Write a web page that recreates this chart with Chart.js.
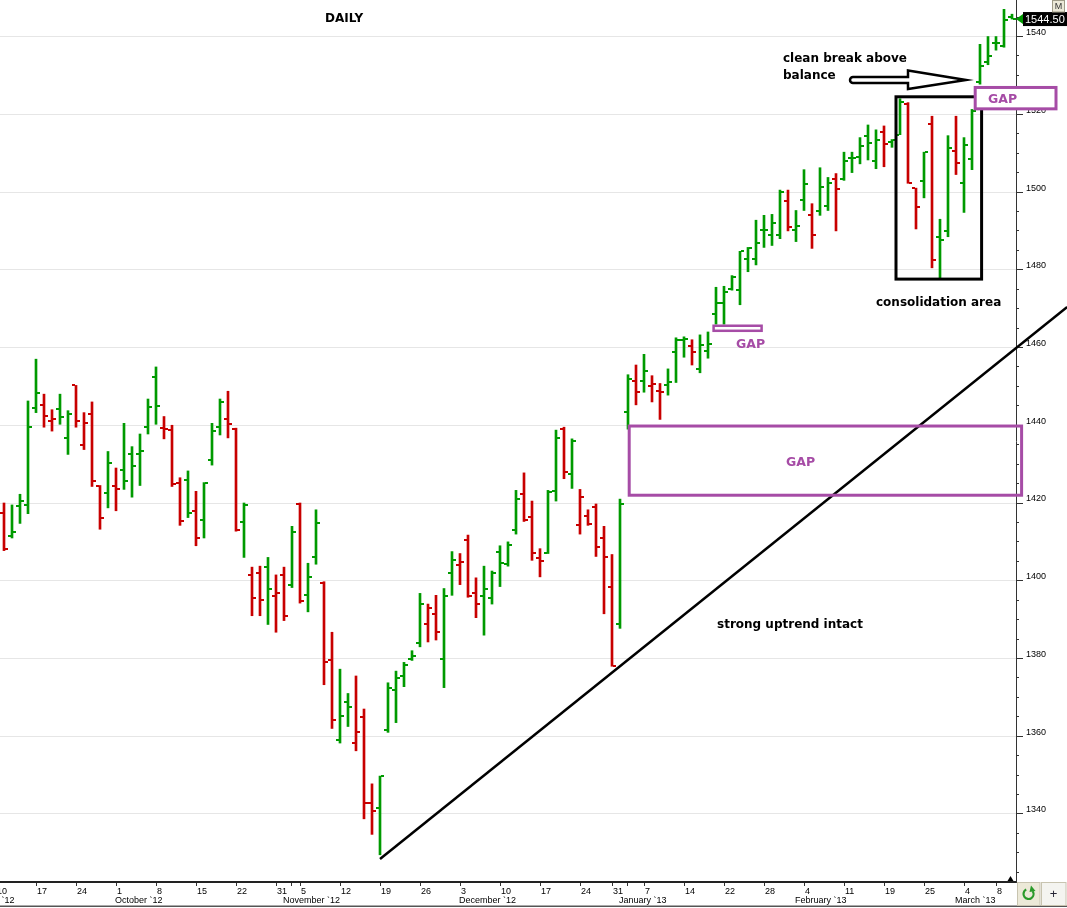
<!DOCTYPE html>
<html lang="en">
<head>
<meta charset="UTF-8">
<title>Daily</title>
<style>
  html, body { margin: 0; padding: 0; background: #fff; }
  #wrap { width: 1067px; height: 908px; }
</style>
</head>
<body>
<div id="wrap"><canvas id="chart" width="1067" height="908"></canvas></div>
<script src="https://cdn.jsdelivr.net/npm/chart.js"></script>
<script>
// daily OHLC, one entry per trading day (bar 1 .. bar 127)
const opens = [
  1417.5, 1411.5, 1419.25, 1419.5, 1444.5, 1445.25, 1441, 1444.25, 1436.75, 1450.25,
  1435, 1443, 1424.25, 1422.5, 1424.5, 1428.5, 1432.5, 1432.5, 1439.5, 1452.5,
  1439.25, 1438.75, 1425.25, 1426, 1418, 1415.75, 1431, 1439.5, 1441.5, 1439,
  1415, 1401.5, 1402, 1403.5, 1396, 1401.5, 1399, 1419.75, 1396.25, 1406,
  1399.5, 1379.5, 1359, 1368.75, 1358.25, 1365, 1342.75, 1341.5, 1361.5, 1372,
  1375.5, 1379.75, 1384, 1389, 1391.5, 1379.75, 1402, 1404, 1410.5, 1396.75,
  1396, 1395.5, 1407.5, 1404.25, 1413, 1422.25, 1416.5, 1405.75, 1407.25, 1423,
  1439, 1427.5, 1414.25, 1416.75, 1419, 1411, 1398.5, 1388.75, 1443.5, 1451.5,
  1451.5, 1450, 1448.75, 1450.25, 1458.75, 1462, 1460.5, 1454.5, 1459, 1468.5,
  1471.5, 1475, 1474.75, 1482.75, 1482.75, 1490.25, 1489, 1489, 1497.75, 1490.25,
  1498, 1494, 1495, 1496.5, 1503.25, 1503.25, 1508.75, 1509, 1514.5, 1508,
  1515.5, 1512.75, 1514.75, 1522.75, 1501, 1502.75, 1517.5, 1488.5, 1490, 1510.5,
  1502.25, 1508.5, 1528.25, 1533.5, 1538.25, 1537.5, 1545
];
const highs = [
  1420, 1419.5, 1422.25, 1446.25, 1457, 1448, 1444, 1448, 1443.75, 1450.25,
  1443.25, 1446, 1424.5, 1433.25, 1429, 1440.5, 1434.5, 1437.75, 1446.75, 1455,
  1442.25, 1440, 1426.5, 1428.25, 1423, 1425.25, 1440.5, 1446.75, 1448.75, 1439.25,
  1420, 1403.5, 1403.75, 1406, 1401.5, 1403.5, 1414, 1420, 1404.5, 1418.25,
  1399.75, 1386.75, 1377.25, 1371, 1375.5, 1367, 1347.75, 1349.75, 1373.75, 1376.75,
  1379, 1382, 1396.75, 1394, 1396.25, 1398, 1407.5, 1407, 1411.75, 1400.75,
  1403.75, 1402.5, 1409, 1410, 1423.25, 1427.75, 1420.5, 1408.25, 1423.25, 1438.75,
  1439.5, 1436.5, 1423.5, 1418.25, 1419.75, 1414, 1406.75, 1421, 1453, 1455.5,
  1458.25, 1452.75, 1450.75, 1454.5, 1462.5, 1462.75, 1462, 1463.25, 1464, 1475.5,
  1475.75, 1478.5, 1484.75, 1485.75, 1492.75, 1494, 1494.25, 1500.5, 1500.5, 1495.25,
  1505.75, 1497, 1506.25, 1503.75, 1504.75, 1510.25, 1510.25, 1514, 1517.25, 1516,
  1517, 1513.5, 1524, 1523, 1501, 1510.25, 1519.5, 1493, 1514.5, 1519.5,
  1514, 1521.25, 1538, 1540, 1540, 1547, 1545.75
];
const lows = [
  1407.75, 1411, 1414.75, 1417.25, 1443.25, 1439.5, 1438.5, 1440.25, 1432.5, 1439.5,
  1433.75, 1424.25, 1413.25, 1418.75, 1418, 1423.5, 1421.5, 1424.5, 1437.75, 1440.25,
  1436.5, 1424.25, 1414.25, 1416.25, 1409, 1411, 1429.75, 1437.5, 1436.75, 1412.75,
  1406, 1391, 1391, 1388.75, 1386.75, 1389.75, 1398.25, 1394.25, 1392, 1404.25,
  1373.25, 1362, 1358.25, 1362.5, 1356.25, 1338.75, 1334.75, 1329.5, 1361, 1363.5,
  1372.75, 1379.5, 1383, 1384.25, 1384.75, 1372.5, 1396.25, 1399, 1395.75, 1390.5,
  1386, 1394, 1398.5, 1403.75, 1412, 1415.25, 1405.25, 1401, 1407, 1420.5,
  1426.25, 1423.75, 1412, 1414.25, 1406.25, 1391.5, 1378, 1387.75, 1439, 1445.25,
  1448.5, 1446, 1441.5, 1447.75, 1451, 1457.5, 1455.5, 1453.5, 1457.25, 1466,
  1466, 1474.75, 1471, 1479.5, 1481.25, 1485.75, 1486.25, 1488, 1490, 1487.25,
  1495.25, 1485.5, 1494, 1495.25, 1490, 1503, 1505, 1507.25, 1508.25, 1506,
  1506.5, 1511.5, 1514.75, 1502.25, 1490.5, 1498.5, 1480.5, 1477.5, 1488.5, 1504.5,
  1494.75, 1505.75, 1527.75, 1532.75, 1536.5, 1537.25, 1544.5
];
const closes = [
  1408.25, 1412.5, 1420.5, 1439.5, 1448.25, 1442.5, 1441.5, 1442.25, 1443, 1441,
  1440.5, 1425.75, 1416.25, 1430.25, 1423.5, 1425.75, 1429.5, 1433.5, 1444.75, 1445,
  1439, 1425, 1415.25, 1417.5, 1411, 1425.25, 1438.5, 1446, 1440.25, 1413,
  1419.5, 1395.5, 1395, 1398, 1396.75, 1391, 1412.5, 1394.75, 1401, 1414.75,
  1379, 1364.25, 1365.25, 1367.5, 1361, 1342.75, 1340.75, 1349.75, 1372.5, 1375,
  1378.25, 1380.75, 1394, 1393, 1386.75, 1396, 1405.25, 1404.75, 1396, 1394,
  1397.75, 1402, 1404.5, 1409.25, 1421, 1415.5, 1407.25, 1405, 1422.75, 1436.75,
  1428, 1436, 1421.5, 1414.5, 1408.75, 1406, 1378, 1419.75, 1452, 1448.5,
  1454, 1450.5, 1448.5, 1451, 1462, 1462.25, 1458.75, 1460.75, 1461, 1471.5,
  1474.25, 1478.25, 1484.75, 1485.5, 1487, 1490.25, 1492, 1500, 1491, 1491.25,
  1502, 1489, 1501.25, 1502.25, 1500.75, 1508, 1508.75, 1511.75, 1512.5, 1513.5,
  1512.25, 1513.5, 1523.25, 1502.25, 1496.25, 1510.25, 1482.5, 1487.75, 1511.25, 1507.5,
  1512, 1520.75, 1532.5, 1535, 1538.25, 1544.25, 1544.5
];

// x axis: bar index of each weekly tick and its label
const dayTicks = [0, 5, 10, 15, 20, 25, 30, 35, 36.9, 38, 43, 48, 53, 58, 63, 68, 73, 77, 78.9,
                  81, 86, 91, 96, 101, 106, 111, 116, 121, 125];
const dayLabels = ['10', '17', '24', '1', '8', '15', '22', '31', '', '5', '12', '19', '26', '3', '10', '17', '24', '31', '',
                   '7', '14', '22', '28', '4', '11', '19', '25', '4', '8'];
const monthTicks = [-5, 15, 36, 58, 78, 100, 120];
const monthLabels = ['September `12', 'October `12', 'November `12', 'December `12',
                     'January `13', 'February `13', 'March `13'];

// drawn trendline (bar index, price)
const trendX = [48, 133.9];
const trendY = [1328.4, 1470.4];

const UP = '#009a00';
const DOWN = '#c80000';
const PURPLE = '#a64ca6';
const AXIS_FONT = { family: 'Liberation Sans', size: 9 };

const n = closes.length;
const idx = closes.map((c, i) => i + 1);
const isUp = closes.map((c, i) => i === 0 ? c >= opens[0] : c >= closes[i - 1]);

function tickImage(color, side) {
  const c = document.createElement('canvas');
  c.width = 8; c.height = 2;
  const g = c.getContext('2d');
  g.fillStyle = color;
  g.fillRect(side === 'left' ? 0 : 5, 0, 3, 2);
  return c;
}
const openUp = tickImage(UP, 'left'), openDown = tickImage(DOWN, 'left');
const closeUp = tickImage(UP, 'right'), closeDown = tickImage(DOWN, 'right');

// boxes in data space: bar index range, price range
const boxes = [
  { x0: 112.5, x1: 123.2, y0: 1524.5, y1: 1477.6, color: '#000', width: 3 },
  { x0: 122.4, x1: 132.5, y0: 1526.9, y1: 1521.4, color: PURPLE, width: 3, fill: '#fff' },
  { x0: 89.7, x1: 95.7, y0: 1465.6, y1: 1464.3, color: PURPLE, width: 2.5, fill: '#fff' },
  { x0: 79.15, x1: 128.2, y0: 1439.8, y1: 1422.0, color: PURPLE, width: 3 }
];
const notes = [
  { text: 'DAILY', x: 325, y: 22, color: '#000', size: 12 },
  { text: 'clean break above', x: 783, y: 62, color: '#000', size: 12 },
  { text: 'balance', x: 783, y: 79, color: '#000', size: 12 },
  { text: 'consolidation area', x: 876, y: 306, color: '#000', size: 12 },
  { text: 'strong uptrend intact', x: 717, y: 628, color: '#000', size: 12 },
  { text: 'GAP', x: 988, y: 103, color: PURPLE, size: 12.5 },
  { text: 'GAP', x: 736, y: 348, color: PURPLE, size: 12.5 },
  { text: 'GAP', x: 786, y: 466, color: PURPLE, size: 12.5 }
];

const decorations = {
  id: 'decorations',
  afterDatasetsDraw(chart) {
    const { ctx } = chart;
    const xs = chart.scales.x, ys = chart.scales.y;
    ctx.save();

    boxes.forEach(b => {
      const l = xs.getPixelForValue(b.x0), r = xs.getPixelForValue(b.x1);
      const t = ys.getPixelForValue(b.y0), btm = ys.getPixelForValue(b.y1);
      if (b.fill) { ctx.fillStyle = b.fill; ctx.fillRect(l, t, r - l, btm - t); }
      ctx.strokeStyle = b.color;
      ctx.lineWidth = b.width;
      ctx.strokeRect(l, t, r - l, btm - t);
    });

    // hollow arrow pointing at the breakout
    ctx.beginPath();
    ctx.moveTo(853, 77);
    ctx.lineTo(908, 77);
    ctx.lineTo(908, 70.5);
    ctx.lineTo(966, 80);
    ctx.lineTo(908, 89);
    ctx.lineTo(908, 83);
    ctx.lineTo(853, 83);
    ctx.arc(853, 80, 3, Math.PI / 2, Math.PI * 1.5);
    ctx.closePath();
    ctx.fillStyle = '#fff';
    ctx.fill();
    ctx.strokeStyle = '#000';
    ctx.lineWidth = 2.5;
    ctx.stroke();

    ctx.textAlign = 'left';
    ctx.textBaseline = 'alphabetic';
    notes.forEach(t => {
      ctx.font = 'bold ' + t.size + 'px "DejaVu Sans"';
      ctx.fillStyle = t.color;
      ctx.fillText(t.text, t.x, t.y);
    });

    // last price marker
    const last = closes[n - 1];
    const yl = ys.getPixelForValue(last);
    const right = chart.chartArea.right;
    ctx.fillStyle = isUp[n - 1] ? UP : DOWN;
    ctx.beginPath();
    ctx.moveTo(right, yl);
    ctx.lineTo(right + 7, yl - 5);
    ctx.lineTo(right + 7, yl + 5);
    ctx.closePath();
    ctx.fill();
    ctx.fillStyle = '#000';
    ctx.fillRect(right + 7, yl - 7, chart.width - right - 7, 14);
    ctx.fillStyle = '#fff';
    ctx.font = '11px "Liberation Sans"';
    ctx.textBaseline = 'middle';
    ctx.fillText(last.toFixed(2), right + 9, yl + 0.5);

    // "M" button
    ctx.fillStyle = '#ece9d8';
    ctx.fillRect(1052.5, 0.5, 12, 11.5);
    ctx.strokeStyle = '#a09c88';
    ctx.lineWidth = 1;
    ctx.strokeRect(1052.5, 0.5, 12, 11.5);
    ctx.fillStyle = '#333';
    ctx.font = '9px "Liberation Sans"';
    ctx.textAlign = 'center';
    ctx.fillText('M', 1058.5, 6.5);

    // current bar marker above the time axis
    const xl = xs.getPixelForValue(idx[n - 1]) - 1.5;
    const axisY = chart.chartArea.bottom;
    ctx.fillStyle = '#000';
    ctx.beginPath();
    ctx.moveTo(xl - 3, axisY - 1);
    ctx.lineTo(xl + 3, axisY - 1);
    ctx.lineTo(xl, axisY - 6);
    ctx.closePath();
    ctx.fill();

    // bottom frame and buttons
    ctx.fillStyle = '#555';
    ctx.fillRect(0, 905.5, chart.width, 1.5);
    ctx.fillStyle = '#ece9d8';
    ctx.fillRect(1017, 882, 23, 24);
    ctx.strokeStyle = '#c8c4b0';
    ctx.strokeRect(1017.5, 882.5, 22.5, 23);
    ctx.fillStyle = '#f4f4f0';
    ctx.fillRect(1041, 882, 25, 24);
    ctx.strokeRect(1041.5, 882.5, 24.5, 23);
    ctx.strokeStyle = '#2a9a2a';
    ctx.lineWidth = 2.2;
    ctx.beginPath();
    ctx.arc(1028.5, 894, 5, -0.2 * Math.PI, 1.35 * Math.PI);
    ctx.stroke();
    ctx.fillStyle = '#2a9a2a';
    ctx.beginPath();
    ctx.moveTo(1031, 885.5);
    ctx.lineTo(1035.5, 891);
    ctx.lineTo(1029.5, 892);
    ctx.closePath();
    ctx.fill();
    ctx.fillStyle = '#223';
    ctx.font = '13px "Liberation Sans"';
    ctx.fillText('+', 1053.5, 894);

    ctx.restore();
  }
};

new Chart(document.getElementById('chart'), {
  type: 'bar',
  data: {
    datasets: [
      {
        type: 'bar',
        data: idx.map((x, i) => ({ x: x, y: [lows[i], highs[i]] })),
        backgroundColor: ctx => isUp[ctx.dataIndex] ? UP : DOWN,
        barThickness: 2,
        borderWidth: 0,
        xAxisID: 'x', yAxisID: 'y'
      },
      {
        type: 'line',
        data: idx.map((x, i) => ({ x: x, y: opens[i] })),
        showLine: false,
        pointRadius: 3,
        pointStyle: ctx => isUp[ctx.dataIndex] ? openUp : openDown,
        xAxisID: 'x', yAxisID: 'y'
      },
      {
        type: 'line',
        data: idx.map((x, i) => ({ x: x, y: closes[i] })),
        showLine: false,
        pointRadius: 3,
        pointStyle: ctx => isUp[ctx.dataIndex] ? closeUp : closeDown,
        xAxisID: 'x', yAxisID: 'y'
      },
      {
        type: 'line',
        data: trendX.map((x, i) => ({ x: x, y: trendY[i] })),
        borderColor: '#000',
        borderWidth: 2.5,
        pointRadius: 0,
        clip: false,
        xAxisID: 'x', yAxisID: 'y'
      }
    ]
  },
  options: {
    responsive: false,
    animation: false,
    events: [],
    layout: { padding: 0, autoPadding: false },
    plugins: { legend: { display: false }, tooltip: { enabled: false } },
    scales: {
      x: {
        type: 'linear',
        position: 'bottom',
        weight: 0,
        min: 0.5,
        max: 127.5,
        offset: false,
        afterBuildTicks: s => { s.ticks = dayTicks.map(v => ({ value: v })); },
        afterFit: s => { s.height = 13; s.paddingLeft = 0; s.paddingRight = 0; },
        grid: { drawOnChartArea: false, tickLength: 4, tickColor: '#333', offset: false },
        border: { color: '#222', width: 2 },
        ticks: {
          font: AXIS_FONT, color: '#000', align: 'start', labelOffset: 1,
          padding: 0, maxRotation: 0, autoSkip: false,
          callback: (v, i) => dayLabels[i]
        }
      },
      xm: {
        type: 'linear',
        position: 'bottom',
        weight: 1,
        min: 0.5,
        max: 127.5,
        offset: false,
        afterBuildTicks: s => { s.ticks = monthTicks.map(v => ({ value: v })); },
        afterFit: s => { s.height = 13; s.paddingLeft = 0; s.paddingRight = 0; },
        grid: { display: false, drawTicks: false, tickLength: 0 },
        border: { display: false },
        ticks: {
          font: AXIS_FONT, color: '#000', align: 'start', labelOffset: -1,
          padding: 0, maxRotation: 0, autoSkip: false,
          callback: (v, i) => monthLabels[i]
        }
      },
      y2: {
        type: 'linear',
        position: 'right',
        weight: 0,
        min: 1322.5,
        max: 1549.4,
        afterFit: s => { s.width = 0; s.paddingTop = 0; s.paddingBottom = 0; },
        grid: { drawOnChartArea: false, tickLength: 3, tickColor: '#333' },
        border: { display: false },
        ticks: { display: false, stepSize: 5, includeBounds: false, maxTicksLimit: 100 }
      },
      y: {
        type: 'linear',
        position: 'right',
        weight: 1,
        min: 1322.5,
        max: 1549.4,
        afterFit: s => { s.width = 51; s.paddingTop = 0; s.paddingBottom = 0; },
        grid: { color: '#e6e6e6', lineWidth: 1, tickLength: 7, tickColor: '#333' },
        border: { color: '#333', width: 1 },
        ticks: {
          stepSize: 20, includeBounds: false, font: AXIS_FONT, color: '#000',
          padding: 3, labelOffset: -4,
          callback: v => String(Math.round(v))
        }
      }
    }
  },
  plugins: [decorations]
});
</script>
</body>
</html>
